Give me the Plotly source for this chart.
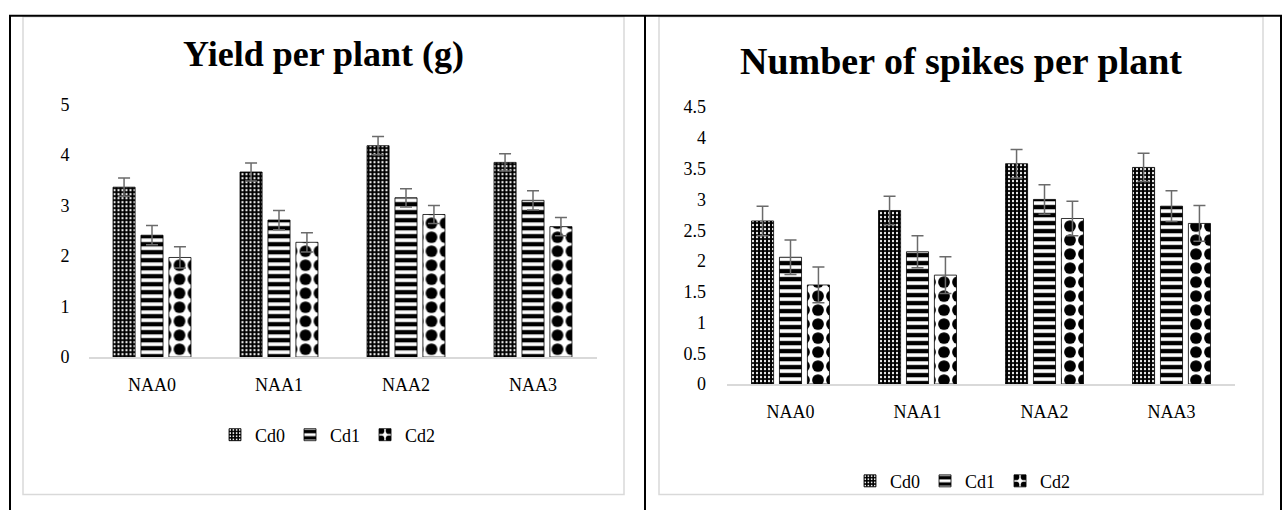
import plotly.graph_objects as go

# ---------------- data ----------------
categories = ["NAA0", "NAA1", "NAA2", "NAA3"]
series_names = ["Cd0", "Cd1", "Cd2"]

yield_cd0 = [3.36, 3.66, 4.18, 3.85]
yield_cd1 = [2.41, 2.71, 3.15, 3.10]
yield_cd2 = [1.97, 2.27, 2.82, 2.58]
yield_err_cd0 = [0.18, 0.18, 0.18, 0.17]
yield_err_cd1 = [0.19, 0.19, 0.18, 0.19]
yield_err_cd2 = [0.21, 0.19, 0.18, 0.18]

spikes_cd0 = [2.65, 2.82, 3.58, 3.52]
spikes_cd1 = [2.06, 2.15, 3.00, 2.89]
spikes_cd2 = [1.61, 1.77, 2.69, 2.61]
spikes_err_cd0 = [0.24, 0.23, 0.23, 0.23]
spikes_err_cd1 = [0.28, 0.26, 0.24, 0.25]
spikes_err_cd2 = [0.29, 0.30, 0.28, 0.29]

yield_ticks = [0, 1, 2, 3, 4, 5]
spikes_ticks = [0, 0.5, 1, 1.5, 2, 2.5, 3, 3.5, 4, 4.5]

title_left = "Yield per plant (g)"
title_right = "Number of spikes per plant"

# ---------------- layout helpers ----------------
W, H = 1283, 520
FONT = "Liberation Serif, Times New Roman, serif"


def px(x):
    return x / W


def py(y):
    return 1 - y / H


patterns = [
    dict(shape=".", fgcolor="#ffffff", bgcolor="#000000", size=4,
         solidity=0.25, fgopacity=1, fillmode="replace"),
    dict(shape="-", fgcolor="#000000", bgcolor="#ffffff", size=8,
         solidity=0.55, fgopacity=1, fillmode="replace"),
    dict(shape=".", fgcolor="#000000", bgcolor="#ffffff", size=14,
         solidity=0.55, fgopacity=1, fillmode="replace"),
]

fig = go.Figure()

left_vals = [yield_cd0, yield_cd1, yield_cd2]
left_errs = [yield_err_cd0, yield_err_cd1, yield_err_cd2]
right_vals = [spikes_cd0, spikes_cd1, spikes_cd2]
right_errs = [spikes_err_cd0, spikes_err_cd1, spikes_err_cd2]

for i, name in enumerate(series_names):
    fig.add_trace(go.Bar(
        x=categories, y=left_vals[i], name=name,
        xaxis="x", yaxis="y", legend="legend",
        marker=dict(pattern=patterns[i],
                    line=dict(color="black", width=0.8)),
        error_y=dict(type="data", array=left_errs[i], visible=True,
                     color="#6b6b6b", thickness=1.5, width=6),
    ))

for i, name in enumerate(series_names):
    fig.add_trace(go.Bar(
        x=categories, y=right_vals[i], name=name,
        xaxis="x2", yaxis="y2", legend="legend2",
        marker=dict(pattern=patterns[i],
                    line=dict(color="black", width=0.8)),
        error_y=dict(type="data", array=right_errs[i], visible=True,
                     color="#6b6b6b", thickness=1.5, width=6),
    ))

axis_font = dict(family=FONT, size=18, color="black")

# left chart geometry (pixels)
L_x0, L_x1 = 88.5, 596.5
L_base, L_top = 361, 98
# right chart geometry (pixels)
R_x0, R_x1 = 727, 1235
R_base, R_top = 389, 101

xaxis_common = dict(type="category", showgrid=False, zeroline=False,
                    showline=True, linecolor="#d9d9d9", linewidth=1.5,
                    ticks="", tickfont=axis_font, ticklabelstandoff=11,
                    fixedrange=True)

fig.update_layout(
    width=W, height=H, autosize=False,
    margin=dict(l=0, r=0, t=0, b=0, pad=0),
    paper_bgcolor="white", plot_bgcolor="white",
    barmode="group", bargap=0.34, bargroupgap=0.21,
    xaxis=dict(domain=[px(L_x0), px(L_x1)], anchor="y", **xaxis_common),
    yaxis=dict(domain=[py(L_base), py(L_top)], anchor="x",
               range=[0, 5], tickvals=yield_ticks,
               showgrid=False, zeroline=False, showline=False, ticks="",
               tickfont=axis_font, ticklabelstandoff=18, fixedrange=True),
    xaxis2=dict(domain=[px(R_x0), px(R_x1)], anchor="y2", **xaxis_common),
    yaxis2=dict(domain=[py(R_base), py(R_top)], anchor="x2",
                range=[0, 4.5], tickvals=spikes_ticks,
                ticktext=[f"{t:g}" for t in spikes_ticks],
                showgrid=False, zeroline=False, showline=False, ticks="",
                tickfont=axis_font, ticklabelstandoff=20, fixedrange=True),
    legend=dict(orientation="h", x=px(328), y=py(442), xanchor="center",
                yanchor="middle", font=dict(family=FONT, size=18, color="black"),
                bgcolor="rgba(0,0,0,0)", itemwidth=30, traceorder="normal"),
    legend2=dict(orientation="h", x=px(963), y=py(490), xanchor="center",
                 yanchor="middle", font=dict(family=FONT, size=18, color="black"),
                 bgcolor="rgba(0,0,0,0)", itemwidth=30, traceorder="normal"),
    showlegend=True,
)

fig.add_annotation(text="<b>" + title_left + "</b>", x=px(323.5), y=py(46),
                   xref="paper", yref="paper", showarrow=False,
                   xanchor="center", yanchor="middle",
                   font=dict(family=FONT, size=36, color="black"))
fig.add_annotation(text="<b>" + title_right + "</b>", x=px(961), y=py(53.5),
                   xref="paper", yref="paper", showarrow=False,
                   xanchor="center", yanchor="middle",
                   font=dict(family=FONT, size=38, color="black"))

# chart area frames (light gray)
for (x0, x1) in [(23, 624), (659, 1263)]:
    fig.add_shape(type="rect", xref="paper", yref="paper",
                  x0=px(x0), x1=px(x1), y0=py(504), y1=py(7),
                  line=dict(color="#d9d9d9", width=1.5), layer="below")

# black table borders
for (x0, y0, x1, y1) in [(9, 6, 1282, 6), (10, 6, 10, 520),
                         (645, 6, 645, 520), (1281, 6, 1281, 520)]:
    fig.add_shape(type="line", xref="paper", yref="paper",
                  x0=px(x0), x1=px(x1), y0=py(y0), y1=py(y1),
                  line=dict(color="black", width=2))

fig.write_html(
    "out.html",
    config={"responsive": False, "displayModeBar": False},
    post_script="document.body.style.margin='0';"
                "document.body.style.overflow='hidden';",
)
